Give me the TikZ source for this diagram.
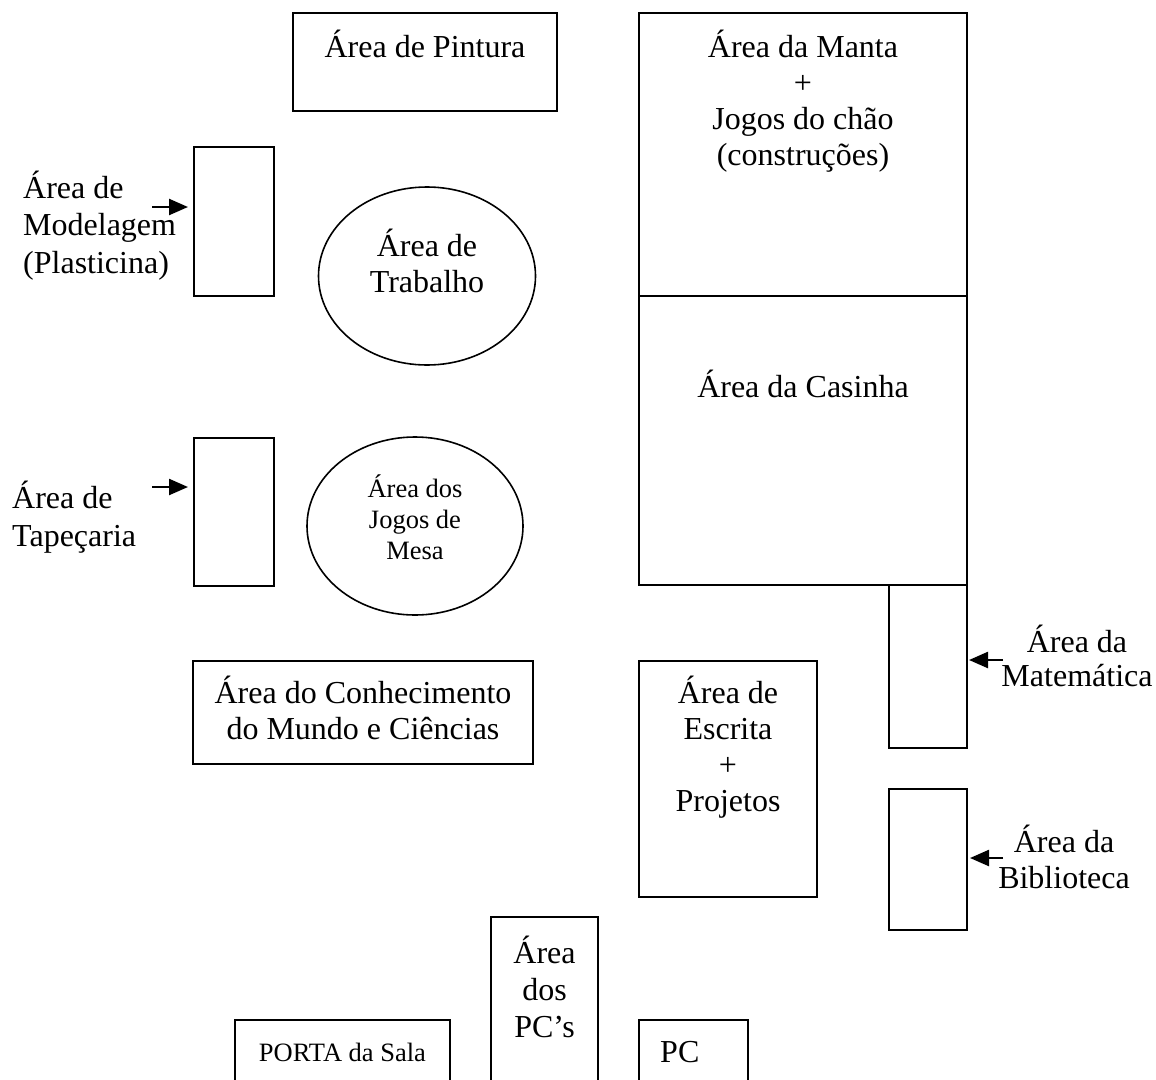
\documentclass[tikz,border=0pt]{standalone}
\usepackage{fontspec}
\setmainfont{Liberation Serif}
\usetikzlibrary{shapes.geometric,arrows.meta}
\newcommand\bigsz{\fontsize{32}{36}\selectfont}
\newcommand\smsz{\fontsize{26.5}{31}\selectfont}
\newcommand\mylines[2][c]{\begin{tabular}[t]{@{}#1@{}}#2\end{tabular}}
\begin{document}
\begin{tikzpicture}[x=1pt,y=-1pt,
  box/.style={draw, line width=2pt, inner sep=0pt, rectangle},
  oval/.style={draw, line width=1.6pt, inner sep=0pt, ellipse},
  lbl/.style={inner sep=0pt, anchor=base, font=\bigsz},
  lbll/.style={inner sep=0pt, anchor=base west, font=\bigsz},
  small/.style={font=\smsz},
  arr/.style={line width=2.4pt, -{Triangle[length=19pt,width=16pt]}}]
\clip (0,0) rectangle (1156,1079);
\fill[white] (0,0) rectangle (1156,1079);

% boxes
\node[box, minimum width=264pt, minimum height=98pt] (pintura) at (425,62) {};
\node[box, minimum width=328pt, minimum height=283pt] (manta) at (803,154.5) {};
\node[box, minimum width=328pt, minimum height=289pt] (casinha) at (803,440.5) {};
\node[box, minimum width=80pt, minimum height=149pt] (mod) at (234,221.5) {};
\node[box, minimum width=80pt, minimum height=148pt] (tap) at (234,512) {};
\node[box, minimum width=340pt, minimum height=103pt] (conh) at (363,712.5) {};
\node[box, minimum width=178pt, minimum height=236pt] (escr) at (728,779) {};
\node[box, minimum width=78pt, minimum height=163pt] (mat) at (928,666.5) {};
\node[box, minimum width=78pt, minimum height=141pt] (bib) at (928,859.5) {};
\node[box, minimum width=107pt, minimum height=183pt] (pcs) at (544.5,1008.5) {};
\node[box, minimum width=215pt, minimum height=80pt] (porta) at (342.5,1060) {};
\node[box, minimum width=109pt, minimum height=80pt] (pc) at (693.5,1060) {};

% ellipses
\node[oval, minimum width=217pt, minimum height=178pt] (trab) at (427,276) {};
\node[oval, minimum width=216pt, minimum height=178pt] (mesa) at (415,526) {};

% texts
\node[lbl] (tpintura) at (425,57) {Área de Pintura};
\node[lbl] (tmanta) at (803,57) {\mylines{Área da Manta\\+\\Jogos do chão\\(construções)}};
\node[lbl] (tcasinha) at (803,397) {Área da Casinha};
\node[lbl] (ttrab) at (427,256) {\mylines{Área de\\Trabalho}};
\node[lbl, small] (tmesa) at (415,497.5) {\mylines{Área dos\\Jogos de\\Mesa}};
\node[lbll, font=\fontsize{32}{37.5}\selectfont] (tmod) at (23,198) {\mylines[l]{Área de\\Modelagem\\(Plasticina)}};
\node[lbll, font=\fontsize{32}{38}\selectfont] (ttap) at (12,508) {\mylines[l]{Área de\\Tapeçaria}};
\node[lbl] (tconh) at (363,703) {\mylines{Área do Conhecimento\\do Mundo e Ciências}};
\node[lbl] (tescr) at (728,703) {\mylines{Área de\\Escrita\\+\\Projetos}};
\node[lbl, font=\fontsize{32}{34}\selectfont] (tmat) at (1077,652) {\mylines{Área da\\Matemática}};
\node[lbl] (tbib) at (1064,852) {\mylines{Área da\\Biblioteca}};
\node[lbl, font=\fontsize{32}{37}\selectfont] (tpcs) at (544.5,963) {\mylines{Área\\dos\\PC’s}};
\node[lbl, small] (tporta) at (342.5,1061) {PORTA da Sala};
\node[lbll] (tpc) at (660,1062) {PC};

% arrows
\coordinate (amod) at (152,207);
\coordinate (atap) at (152,487);
\coordinate (amat) at (1003,660);
\coordinate (abib) at (1003,858);
\draw[arr, shorten >=5pt] (amod) -- (amod -| mod.west);
\draw[arr, shorten >=5pt] (atap) -- (atap -| tap.west);
\draw[arr, shorten >=1pt] (amat) -- (amat -| mat.east);
\draw[arr, shorten >=2pt] (abib) -- (abib -| bib.east);
\end{tikzpicture}
\end{document}
